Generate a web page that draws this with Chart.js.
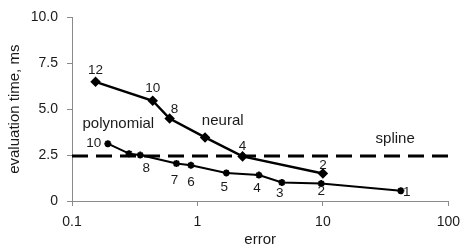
<!DOCTYPE html>
<html>
<head>
<meta charset="utf-8">
<script src="https://cdn.jsdelivr.net/npm/chart.js@4.4.0/dist/chart.umd.min.js"></script>
<style>
  html, body { margin: 0; padding: 0; background: #fff; }
  canvas { display: block; }
</style>
</head>
<body>
<canvas id="chart" width="468" height="249"></canvas>
<script>
// neural network approximation (labels = hidden units)
const neuralError = [0.154, 0.44, 0.60, 1.15, 2.29, 10.0];
const neuralTime = [6.49, 5.46, 4.49, 3.46, 2.43, 1.50];
const neuralLabels = ['12', '10', '8', '', '4', '2'];

// polynomial approximation (labels = degree)
const polyError = [0.193, 0.285, 0.35, 0.68, 0.887, 1.70, 3.09, 4.71, 9.7, 41.8];
const polyTime = [3.12, 2.58, 2.50, 2.04, 1.95, 1.53, 1.41, 1.01, 0.95, 0.56];
const polyLabels = ['10', '', '8', '7', '6', '5', '4', '3', '2', '1'];

// spline evaluation time (constant)
const splineTime = 2.45;

const xTicks = [0.1, 1, 10, 100];
const yTicks = [0, 2.5, 5, 7.5, 10];
const yTickLabels = ['0', '2.5', '5.0', '7.5', '10.0'];

const FONT = "'Liberation Sans', Arial, sans-serif";
const INK = '#1a1a1a';
const AXIS = '#8a8a8a';

const toXY = (xs, ys) => xs.map((x, i) => ({ x, y: ys[i] }));

// text next to points and series names
const annotate = {
  id: 'annotate',
  afterDatasetsDraw(chart, args, opts) {
    const { ctx, scales: { x, y } } = chart;
    ctx.save();
    ctx.fillStyle = INK;
    ctx.textAlign = 'center';
    ctx.textBaseline = 'middle';
    ctx.font = '13.5px ' + FONT;
    opts.points.forEach((s) => {
      s.labels.forEach((lab, i) => {
        if (!lab) return;
        const off = s.offsets[i];
        ctx.fillText(lab, x.getPixelForValue(s.xs[i]) + off[0], y.getPixelForValue(s.ys[i]) + off[1]);
      });
    });
    ctx.font = '15px ' + FONT;
    opts.names.forEach((n) => {
      ctx.fillText(n.text, x.getPixelForValue(n.x), y.getPixelForValue(n.y));
    });
    ctx.restore();
  },
};

new Chart(document.getElementById('chart'), {
  type: 'line',
  data: {
    datasets: [
      {
        label: 'spline',
        data: [{ x: 0.1, y: splineTime }, { x: 100, y: splineTime }],
        borderColor: '#000',
        borderWidth: 3,
        borderDash: [16, 8],
        pointRadius: 0,
      },
      {
        label: 'neural',
        data: toXY(neuralError, neuralTime),
        borderColor: '#000',
        backgroundColor: '#000',
        borderWidth: 2.5,
        pointStyle: 'rectRot',
        pointRadius: 3.5,
      },
      {
        label: 'polynomial',
        data: toXY(polyError, polyTime),
        borderColor: '#000',
        backgroundColor: '#000',
        borderWidth: 2,
        pointStyle: 'star',
        pointRadius: 3.5,
        pointBorderWidth: 2,
      },
    ],
  },
  options: {
    responsive: false,
    animation: false,
    layout: { padding: { top: 16, right: 14, left: 0, bottom: 0 } },
    plugins: {
      legend: { display: false },
      tooltip: { enabled: false },
      annotate: {
        points: [
          {
            xs: neuralError, ys: neuralTime, labels: neuralLabels,
            offsets: [[0, -12], [0, -12], [5, -9], [0, 0], [0, -10], [0, -8]],
          },
          {
            xs: polyError, ys: polyTime, labels: polyLabels,
            offsets: [[-14, 0], [0, 0], [6, 13], [-2, 17], [0, 17], [-2, 14], [-2, 13], [-2, 11], [0, 8], [6, 2]],
          },
        ],
        names: [
          { text: 'polynomial', x: 0.234, y: 4.2 },
          { text: 'neural', x: 1.59, y: 4.38 },
          { text: 'spline', x: 37.7, y: 3.4 },
        ],
      },
    },
    scales: {
      x: {
        type: 'logarithmic',
        min: 0.1,
        max: 100,
        afterBuildTicks: (s) => { s.ticks = xTicks.map((v) => ({ value: v })); },
        afterFit: (s) => { s.height = 48; },
        ticks: {
          color: INK,
          font: { family: FONT, size: 14 },
          padding: 8,
          maxRotation: 0,
          callback: (v) => String(v),
        },
        grid: { drawOnChartArea: false, drawTicks: true, tickLength: 5, color: AXIS },
        border: { display: true, color: AXIS, width: 1 },
        title: {
          display: true,
          text: 'error',
          color: INK,
          font: { family: FONT, size: 15 },
          padding: { top: 0, bottom: 0 },
        },
      },
      y: {
        min: 0,
        max: 10,
        afterBuildTicks: (s) => { s.ticks = yTicks.map((v) => ({ value: v })); },
        afterFit: (s) => { s.width = 72; },
        ticks: {
          color: INK,
          font: { family: FONT, size: 14 },
          padding: 9,
          callback: (v, i) => yTickLabels[i],
        },
        grid: { drawOnChartArea: false, drawTicks: true, tickLength: 5, color: AXIS },
        border: { display: true, color: AXIS, width: 1 },
        title: {
          display: true,
          text: 'evaluation time, ms',
          color: INK,
          font: { family: FONT, size: 15 },
          padding: { top: 6, bottom: 0 },
        },
      },
    },
  },
  plugins: [annotate],
});
</script>
</body>
</html>
